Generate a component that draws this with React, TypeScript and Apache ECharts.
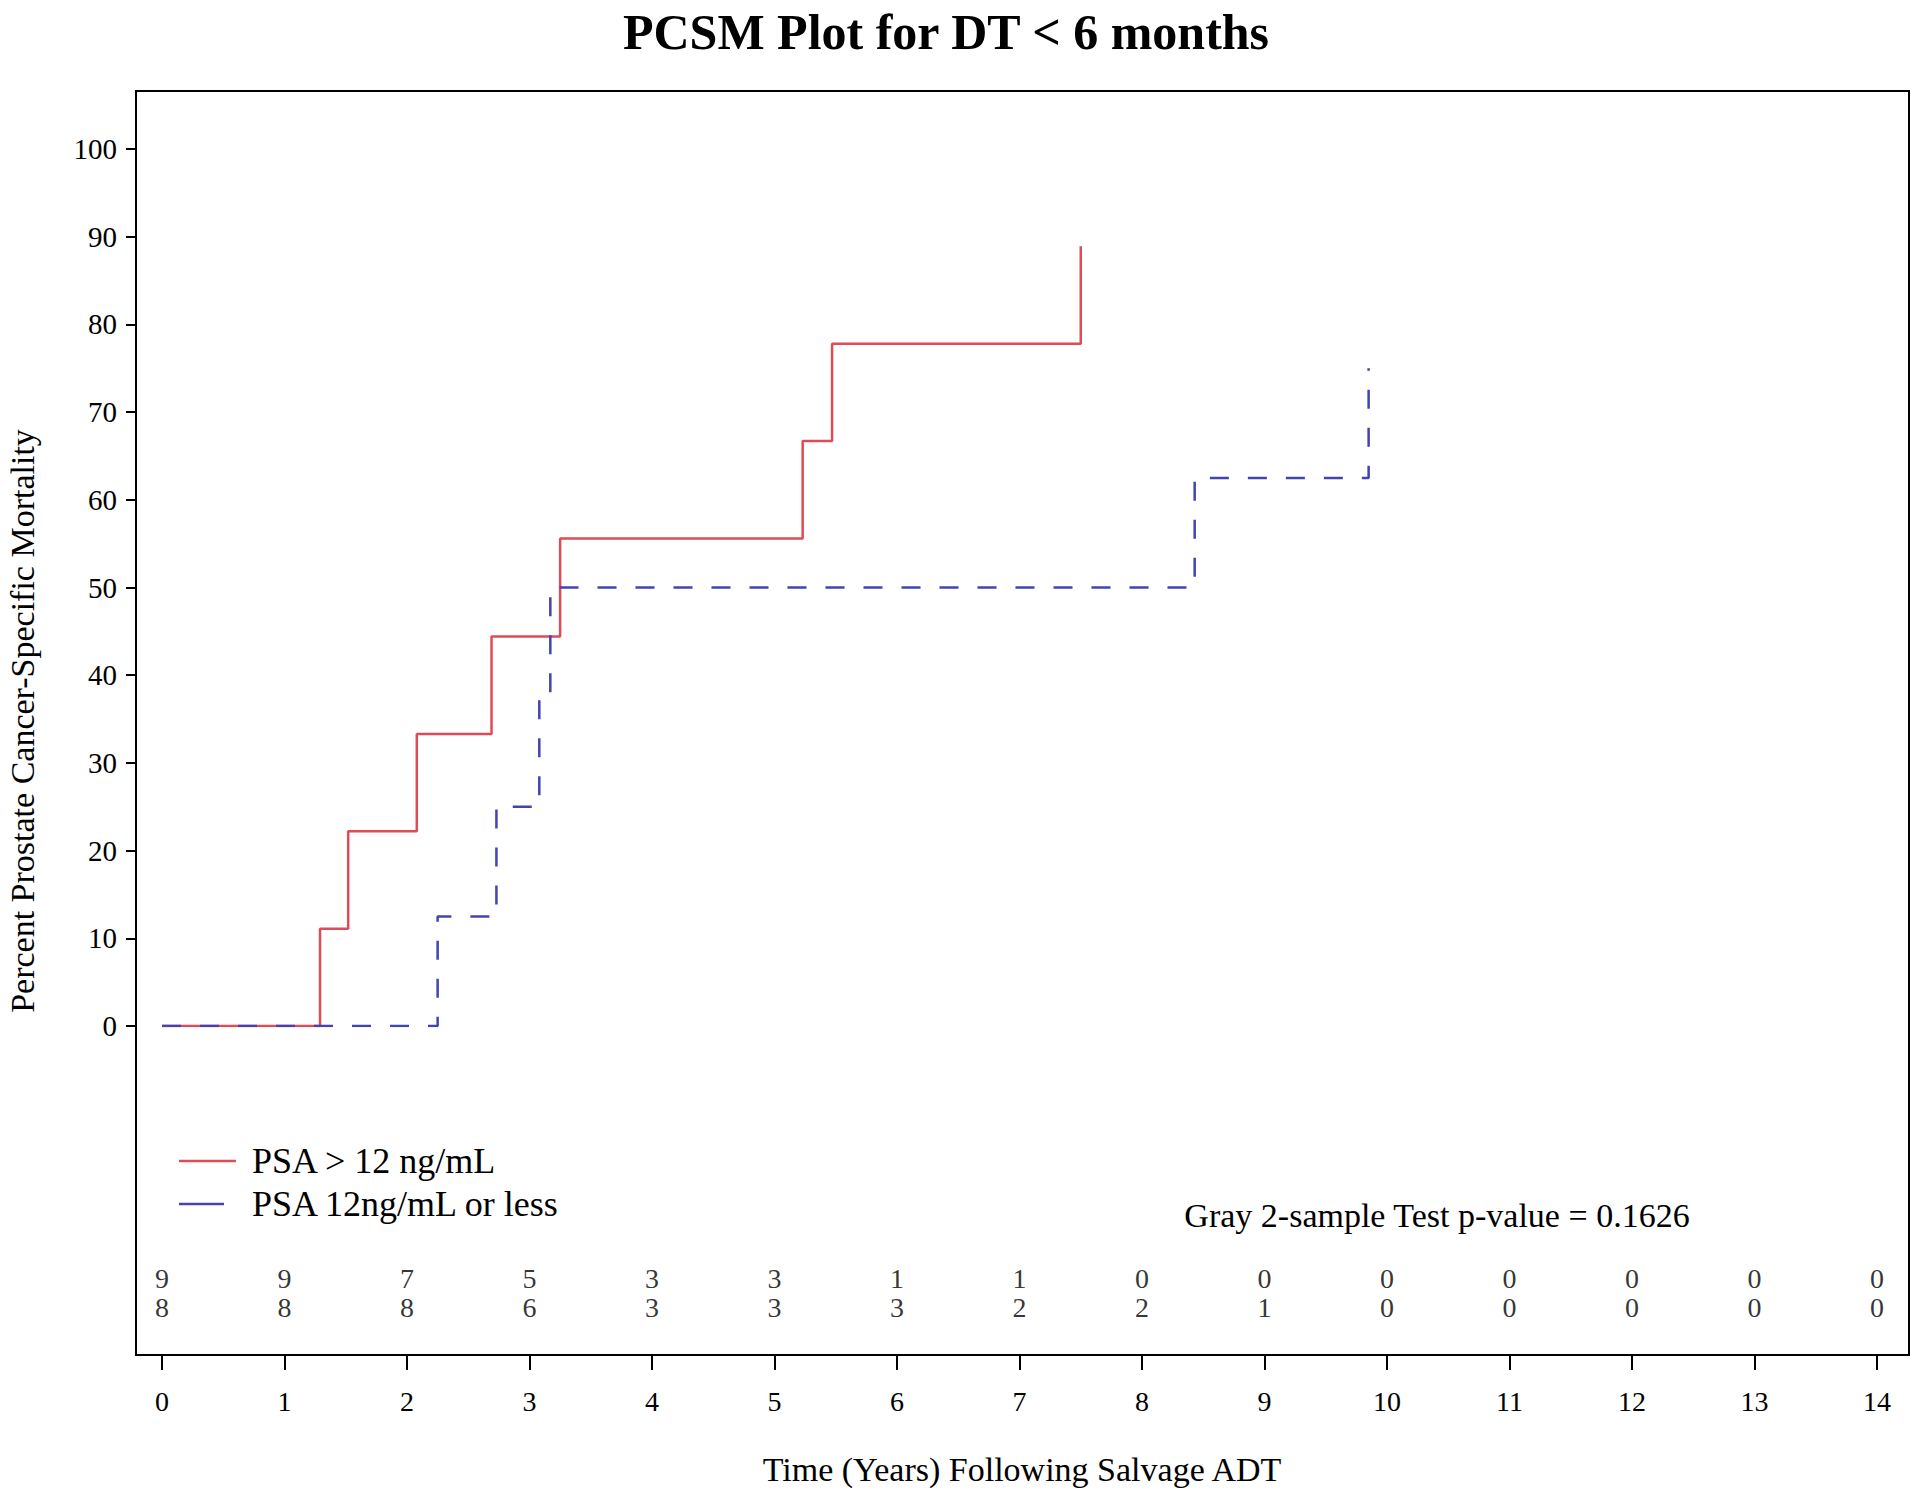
import React, { useEffect, useRef } from "react";
import * as echarts from "echarts";

const FONT = "'Liberation Serif', 'Times New Roman', serif";

const titleText = "PCSM Plot for DT < 6 months";
const yTitle = "Percent Prostate Cancer-Specific Mortality";
const xTitle = "Time (Years) Following Salvage ADT";
const pValueText = "Gray 2-sample Test p-value = 0.1626";

const seriesNames = ["PSA > 12 ng/mL", "PSA 12ng/mL or less"];

const timeTicks = [0, 1, 2, 3, 4, 5, 6, 7, 8, 9, 10, 11, 12, 13, 14];

// Cumulative incidence (step function) event times and values
const redTimes = [0, 1.29, 1.52, 2.08, 2.69, 3.25, 5.23, 5.47, 7.5];
const redPct = [0, 11.1, 22.2, 33.3, 44.4, 55.6, 66.7, 77.8, 88.9];
const blueTimes = [0, 2.25, 2.73, 3.08, 3.17, 8.43, 9.85];
const bluePct = [0, 12.5, 25, 37.5, 50, 62.5, 75];

// Numbers at risk at each yearly tick
const atRiskRed = [9, 9, 7, 5, 3, 3, 1, 1, 0, 0, 0, 0, 0, 0, 0];
const atRiskBlue = [8, 8, 8, 6, 3, 3, 3, 2, 2, 1, 0, 0, 0, 0, 0];

const RED = "#E14B55";
const BLUE = "#4343B4";

export default function App() {
  const ref = useRef<HTMLDivElement>(null);

  useEffect(() => {
    document.body.style.margin = "0";
    if (!ref.current) return;
    const chart = echarts.init(ref.current, null, { renderer: "svg" });

    const redData = redTimes.map((t, i) => [t, redPct[i]]);
    const blueData = blueTimes.map((t, i) => [t, bluePct[i]]);
    const riskRedData = timeTicks.map((t, i) => [t, 1, atRiskRed[i]]);
    const riskBlueData = timeTicks.map((t, i) => [t, 0, atRiskBlue[i]]);

    const riskLabel = {
      show: true,
      position: "inside",
      formatter: (p: any) => String(p.value[2]),
      fontFamily: FONT,
      fontSize: 28,
      color: "#000",
    };

    const option: any = {
      animation: false,
      backgroundColor: "#ffffff",
      grid: [
        { left: 162, top: 149, width: 1715, height: 877 },
        { left: 162, top: 1278, width: 1715, height: 29 },
      ],
      xAxis: [
        {
          gridIndex: 0,
          type: "value",
          min: 0,
          max: 14,
          interval: 1,
          position: "bottom",
          offset: 329,
          axisLine: { show: false, onZero: false },
          axisTick: { show: true, length: 15, lineStyle: { color: "#000", width: 2 } },
          axisLabel: { margin: 32, fontFamily: FONT, fontSize: 28, color: "#000" },
          splitLine: { show: false },
        },
        { gridIndex: 1, type: "value", min: 0, max: 14, show: false },
      ],
      yAxis: [
        {
          gridIndex: 0,
          type: "value",
          min: 0,
          max: 100,
          interval: 10,
          position: "left",
          offset: 26,
          axisLine: { show: false, onZero: false },
          axisTick: { show: true, length: 10, lineStyle: { color: "#000", width: 2 } },
          axisLabel: { margin: 19, fontFamily: FONT, fontSize: 29, color: "#000" },
          splitLine: { show: false },
        },
        { gridIndex: 1, type: "value", min: 0, max: 1, show: false },
      ],
      legend: {
        orient: "vertical",
        left: 174,
        top: 1138,
        itemWidth: 57,
        itemHeight: 14,
        itemGap: 7,
        symbolKeepAspect: true,
        textStyle: {
          fontFamily: FONT,
          fontSize: 36,
          color: "#000",
          lineHeight: 36,
          padding: [0, 0, 0, 11],
        },
        data: [
          { name: seriesNames[0], icon: "path://M0,0H57V2.5H0Z" },
          { name: seriesNames[1], icon: "path://M0,0H45V2.5H0Z M57,0H57.01V0.01H57Z" },
        ],
      },
      graphic: [
        {
          type: "rect",
          shape: { x: 136, y: 91, width: 1773, height: 1264 },
          style: { fill: "none", stroke: "#000", lineWidth: 2 },
          silent: true,
        },
        {
          type: "text",
          x: 946,
          y: 32,
          style: {
            text: titleText,
            font: `bold 50px ${FONT}`,
            fill: "#000",
            textAlign: "center",
            textVerticalAlign: "middle",
          },
        },
        {
          type: "text",
          x: 22,
          y: 721,
          rotation: Math.PI / 2,
          style: {
            text: yTitle,
            font: `34px ${FONT}`,
            fill: "#000",
            textAlign: "center",
            textVerticalAlign: "middle",
          },
        },
        {
          type: "text",
          x: 1022,
          y: 1469,
          style: {
            text: xTitle,
            font: `34px ${FONT}`,
            fill: "#000",
            textAlign: "center",
            textVerticalAlign: "middle",
          },
        },
        {
          type: "text",
          x: 1437,
          y: 1215,
          style: {
            text: pValueText,
            font: `34px ${FONT}`,
            fill: "#000",
            textAlign: "center",
            textVerticalAlign: "middle",
          },
        },
      ],
      series: [
        {
          name: seriesNames[0],
          type: "line",
          xAxisIndex: 0,
          yAxisIndex: 0,
          step: "end",
          symbol: "none",
          data: redData,
          lineStyle: { color: RED, width: 2.5, type: "solid" },
          itemStyle: { color: RED },
        },
        {
          name: seriesNames[1],
          type: "line",
          xAxisIndex: 0,
          yAxisIndex: 0,
          step: "end",
          symbol: "none",
          data: blueData,
          lineStyle: { color: BLUE, width: 2.5, type: [19, 19] },
          itemStyle: { color: BLUE },
        },
        {
          name: "atRiskRed",
          type: "scatter",
          xAxisIndex: 1,
          yAxisIndex: 1,
          symbolSize: 1,
          silent: true,
          clip: false,
          itemStyle: { color: "transparent" },
          label: riskLabel,
          data: riskRedData,
        },
        {
          name: "atRiskBlue",
          type: "scatter",
          xAxisIndex: 1,
          yAxisIndex: 1,
          symbolSize: 1,
          silent: true,
          clip: false,
          itemStyle: { color: "transparent" },
          label: riskLabel,
          data: riskBlueData,
        },
      ],
    };

    chart.setOption(option);
    return () => chart.dispose();
  }, []);

  return (
    <div
      ref={ref}
      style={{ position: "absolute", left: 0, top: 0, width: 1920, height: 1496, background: "#fff" }}
    />
  );
}
